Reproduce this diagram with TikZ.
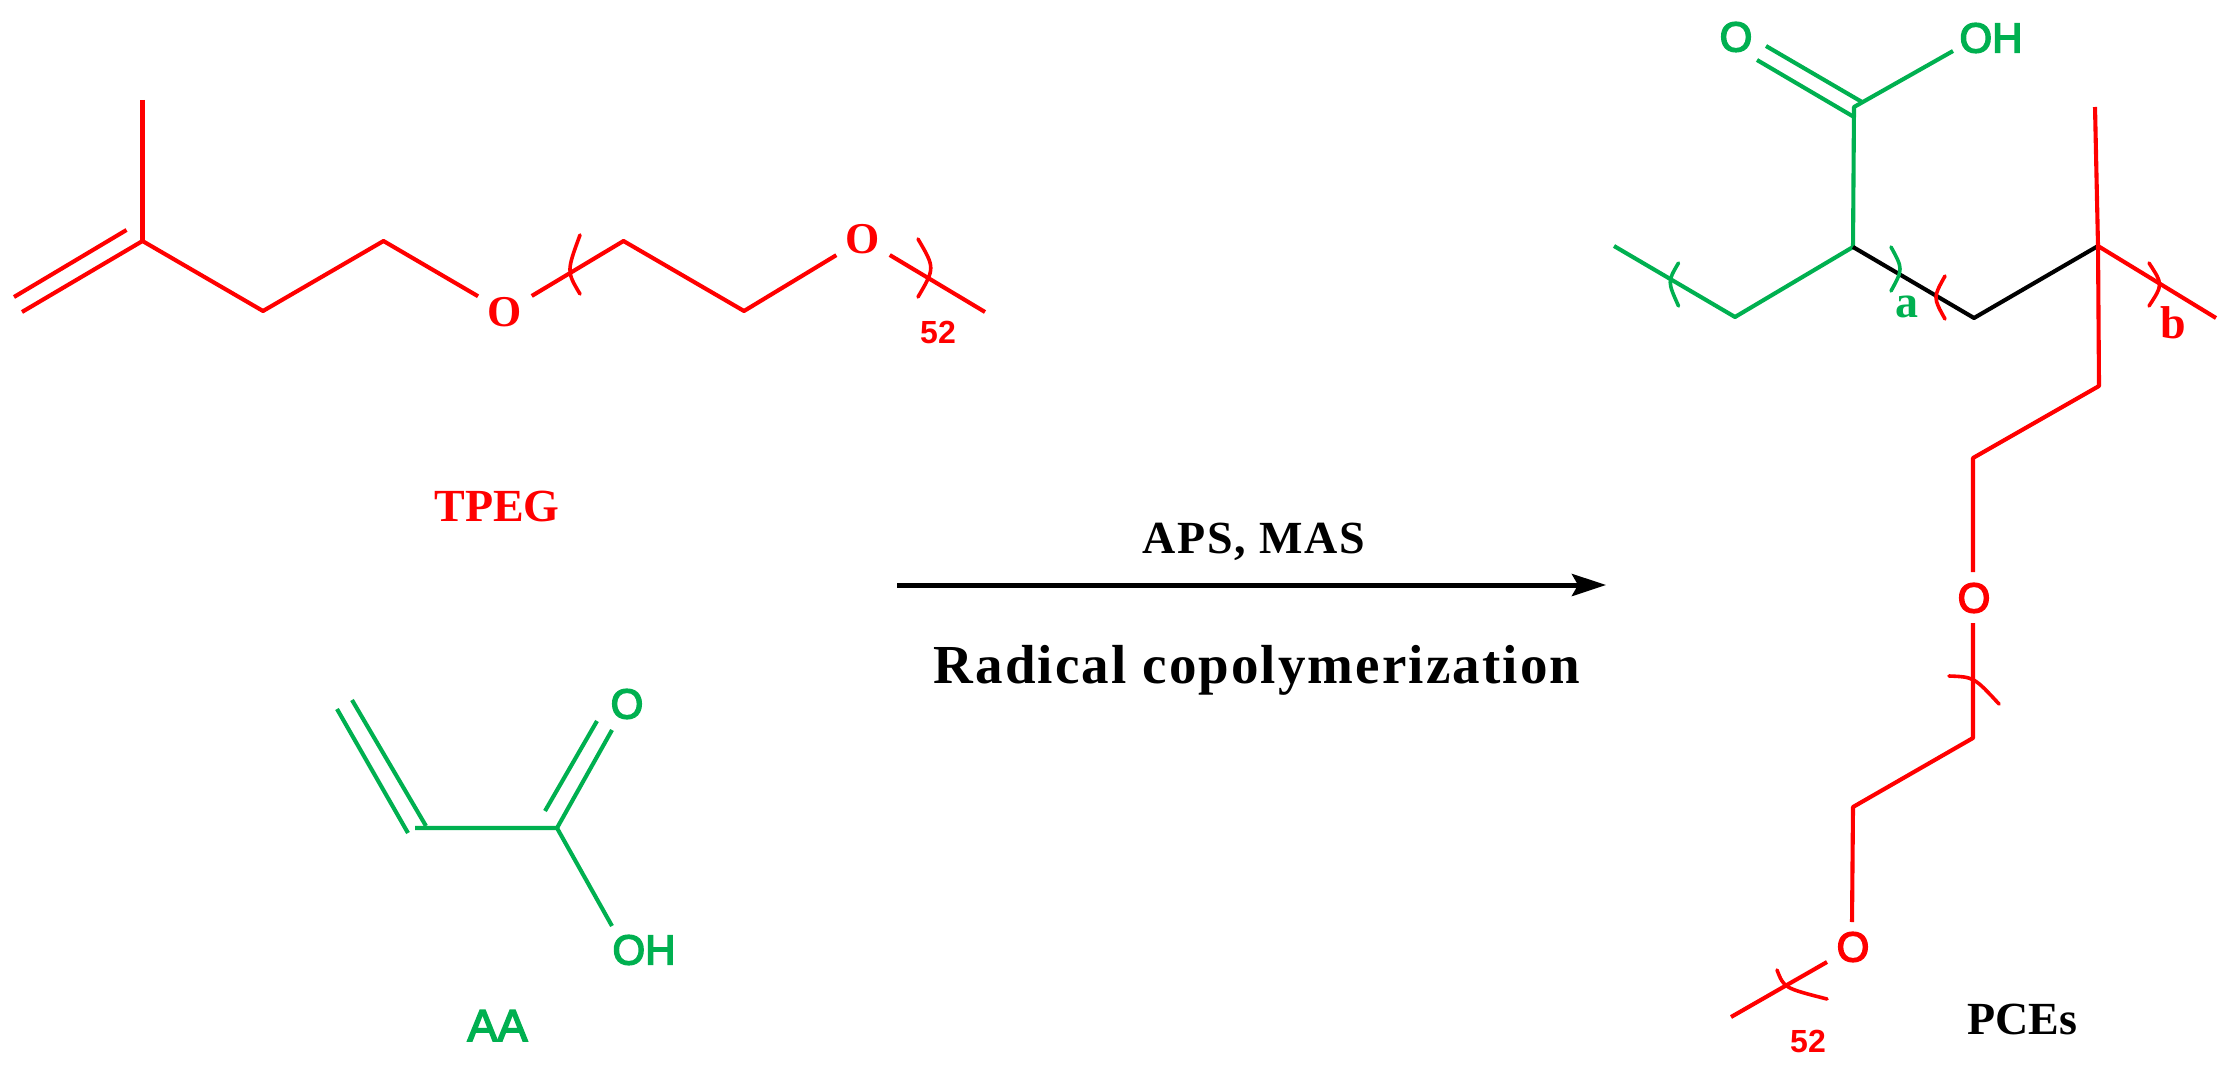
\documentclass[tikz,border=0pt]{standalone}
\usepackage{fontspec}
\usetikzlibrary{arrows.meta}
\setmainfont{Liberation Serif}
\newfontfamily\molplain{Liberation Sans}
\definecolor{pgreen}{HTML}{00B050}
\definecolor{pred}{HTML}{FF0000}
\tikzset{
  x=1pt,y=-1pt,
  bond/.style={line width=4.1pt,line join=round},
  rbond/.style={bond,pred},
  gbond/.style={bond,pgreen},
  kbond/.style={bond,black},
  brk/.style={line width=3.6pt,line cap=round},
  atomtext/.style={font=\molplain\addfontfeature{FakeBold=3.5}\fontsize{42}{42}\selectfont,inner sep=0pt},
  ratom/.style={font=\bfseries\fontsize{44}{44}\selectfont,inner sep=0pt,text=pred,shape=circle,minimum size=62pt},
  patom/.style={atomtext,text=pred,shape=circle,minimum size=51pt},
  gatom/.style={atomtext,text=pgreen},
  idx/.style={font=\molplain\bfseries\fontsize{32}{32}\selectfont,text=pred,inner sep=0pt},
  lab/.style={font=\bfseries\fontsize{46}{46}\selectfont,inner sep=0pt,anchor=base},
}
\begin{document}
\begin{tikzpicture}
\useasboundingbox (0,0) rectangle (2235,1070);
% ---------- TPEG
\node[ratom] (O1) at (505,312) {O};
\node[ratom] (O2) at (863,239) {O};
\node[idx] (n52a) at (938,332) {52};
\node[lab,text=pred] (tpeg) at (497,521) {TPEG};
\coordinate (t0) at (142.5,100);
\coordinate (t1) at (142.5,241);
\coordinate (t2a) at (22,312);
\coordinate (t2b) at (14,297);
\coordinate (t2c) at (126.5,230);
\coordinate (t3) at (263,311);
\coordinate (t4) at (383.5,241);
\coordinate (t5) at (623.5,241);
\coordinate (t6) at (744,311);
\coordinate (t7) at (985,312);
\draw[rbond] (t0) -- (t1);
\draw[rbond] (t2a) -- (t1) -- (t3) -- (t4) -- (O1);
\draw[rbond] (t2b) -- (t2c);
\draw[rbond] (O1) -- (t5) -- (t6) -- (O2);
\draw[rbond] (O2) -- (t7);
\draw[brk,pred] (580,235) .. controls (566.6,271.5) .. (580,294);
\draw[brk,pred] (918,239) .. controls (935,268) .. (918,297);
% ---------- AA
\node[gatom] (aaO) at (627,704) {O};
\node[gatom] (aaOH) at (644,950) {OH};
\node[gatom,anchor=base,font=\molplain\addfontfeature{FakeBold=3.5}\fontsize{45}{45}\selectfont] (aa) at (497.5,1041) {AA};
\coordinate (a1) at (337,709);
\coordinate (a2) at (408,833);
\coordinate (a3) at (352,700);
\coordinate (a4) at (426,826);
\coordinate (a5) at (415,828);
\coordinate (a6) at (557,828);
\coordinate (a7) at (612,730);
\coordinate (a8) at (545,811);
\coordinate (a9) at (597,721);
\coordinate (a10) at (612,926);
\draw[gbond] (a1) -- (a2);
\draw[gbond] (a3) -- (a4);
\draw[gbond] (a5) -- (a6) -- (a7);
\draw[gbond] (a8) -- (a9);
\draw[gbond] (a6) -- (a10);
% ---------- reaction arrow
\node[lab] (aps) at (1254,553) {\addfontfeature{LetterSpace=3.8}APS, MAS};
\node[lab,font=\bfseries\fontsize{55}{55}\selectfont] (rad) at (1257,683) {\addfontfeature{LetterSpace=3.8}Radical copolymerization};
\coordinate (arrS) at (897,585);
\coordinate (arrE) at (1606,585);
\draw[line width=5pt,-{Stealth[length=34pt,width=22pt,inset=6pt]}] (arrS) -- (arrE);
% ---------- PCE
\node[gatom] (pO) at (1736,37) {O};
\node[gatom] (pOH) at (1991,38) {OH};
\node[patom] (pO1) at (1974,598) {O};
\node[patom] (pO2) at (1853,947) {O};
\node[idx] (n52b) at (1808,1041) {52};
\node[lab,text=pgreen] (la) at (1907,317) {a};
\node[lab,text=pred] (lb) at (2173,338) {b};
\node[lab] (pce) at (2022,1034) {PCEs};
\coordinate (p1) at (1854,107);
\coordinate (p2) at (1953,51);
\coordinate (p3) at (1766,46);
\coordinate (p4) at (1862,102);
\coordinate (p5) at (1757,60);
\coordinate (p6) at (1854,117);
\coordinate (p7) at (1853,247);
\coordinate (p8) at (1614,246);
\coordinate (p9) at (1735,317);
\coordinate (p10) at (1974,318);
\coordinate (p11) at (2098,246);
\coordinate (p12) at (2216,318);
\coordinate (p13) at (2095,107);
\coordinate (p14) at (2099,386);
\coordinate (p15) at (1973,458);
\coordinate (p16) at (1973,738);
\coordinate (p17) at (1853,807);
\coordinate (p18) at (1731,1017);
\coordinate (p19) at (1827,962);
\coordinate (p20) at (1973,572);
\coordinate (p21) at (1973,623);
\coordinate (p22) at (1852,922);
\draw[gbond] (p2) -- (p1) -- (p7) -- (p9) -- (p8);
\draw[gbond] (p3) -- (p4);
\draw[gbond] (p5) -- (p6);
\draw[kbond] (p7) -- (p10) -- (p11);
\draw[rbond] (p13) -- (p11) -- (p14) -- (p15) -- (p20);
\draw[rbond] (p11) -- (p12);
\draw[rbond] (p21) -- (p16) -- (p17) -- (p22);
\draw[rbond] (p19) -- (p18);
\draw[brk,pgreen] (1678.5,263) .. controls (1667.5,281.5) .. (1678.5,306);
\draw[brk,pgreen] (1891,247) .. controls (1903,269) .. (1891,291);
\draw[brk,pred] (1945,276) .. controls (1933,297.5) .. (1945,319);
\draw[brk,pred] (2149,263) .. controls (2163,284.5) .. (2149,306);
\draw[brk,pred] (1949,676) .. controls (1974,677) .. (1999,704);
\draw[brk,pred] (1777,970) .. controls (1784,988) .. (1827,999);
\end{tikzpicture}
\end{document}
